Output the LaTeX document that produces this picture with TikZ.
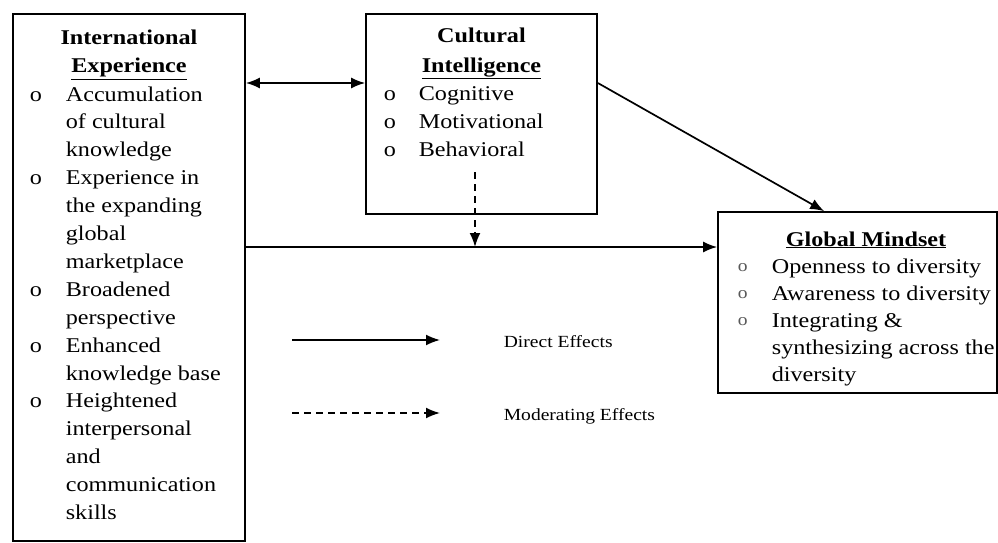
\documentclass[tikz,border=0pt]{standalone}
\usepackage{fontspec}
\setmainfont[FakeStretch=1.15]{Liberation Serif}
\usetikzlibrary{arrows.meta,calc}

\begin{document}
\begin{tikzpicture}[x=1pt,y=-1pt,line width=1.7pt,
    box/.style={draw,rectangle,inner sep=0pt},
    txt/.style={anchor=base west,inner sep=0pt,font=\fontsize{21}{27}\selectfont},
    ttl/.style={anchor=base,inner sep=0pt,font=\fontsize{21}{27}\selectfont\bfseries},
    leg/.style={anchor=base west,inner sep=0pt,font=\fontsize{17}{20}\selectfont},
    tip/.style={-{Latex[length=14pt,width=11pt]}},
    dsh/.style={dash pattern=on 7pt off 5pt}]
  \useasboundingbox (0,0) rectangle (998,543);

  % boxes
  \node[box,minimum width=232,minimum height=527] (iexp) at (129,277.5) {};
  \node[box,minimum width=231,minimum height=200] (cq) at (481.5,114) {};
  \node[box,minimum width=279,minimum height=181] (gmind) at (857.5,302.5) {};

  % international experience
  \node[ttl] (iet1) at (129,45) {International};
  \node[ttl] (iet2) at (129,73) {\underline{Experience}};
  \foreach \t [count=\i from 0] in {Accumulation,of cultural,knowledge,Experience in,the expanding,global,marketplace,Broadened,perspective,Enhanced,knowledge base,Heightened,interpersonal,and,communication,skills}
    \node[txt] (iel\i) at (65,101+27.9*\i) {\t};
  \foreach \i in {0,3,7,9,11}
    \node[txt] (ieb\i) at (29,101+27.9*\i) {o};

  % cultural intelligence
  \node[ttl] (cqt1) at (481.5,43) {Cultural};
  \node[ttl] (cqt2) at (481.5,72) {\underline{Intelligence}};
  \foreach \t [count=\i from 0] in {Cognitive,Motivational,Behavioral}{
    \node[txt] (cql\i) at (418,100+28*\i) {\t};
    \node[txt] (cqb\i) at (383,100+28*\i) {o};
  }

  % global mindset
  \node[ttl] (gmt) at (866,246) {\underline{Global Mindset}};
  \foreach \t [count=\i from 0] in {Openness to diversity,Awareness to diversity,Integrating \&,synthesizing across the,diversity}
    \node[txt] (gml\i) at (771,273+27*\i) {\t};
  \foreach \i in {0,1,2}
    \node[txt,font=\fontsize{17}{17}\selectfont,text=black!65] (gmb\i) at (737,271+27*\i) {o};

  % effects
  \coordinate (link) at (0,83);
  \coordinate (flow) at (475,247);
  \coordinate (mod) at (475,172);
  \draw[{Latex[length=14pt,width=11pt]}-{Latex[length=14pt,width=11pt]}] (iexp.east |- link) -- (cq.west |- link);
  \draw[tip] (cq.east |- link) -- ($(gmind.north west)+(107,0)$);
  \draw[tip] (iexp.east |- flow) -- (gmind.west |- flow);
  \draw[tip,dsh] (mod) -- (flow);

  % legend
  \coordinate (d0) at (292,340);
  \coordinate (d1) at (440,340);
  \coordinate (m0) at (292,413);
  \coordinate (m1) at (440,413);
  \draw[tip] (d0) -- (d1);
  \draw[tip,dsh] (m0) -- (m1);
  \node[leg] (ldir) at (503,347) {Direct Effects};
  \node[leg] (lmod) at (503,420) {Moderating Effects};
\end{tikzpicture}
\end{document}
